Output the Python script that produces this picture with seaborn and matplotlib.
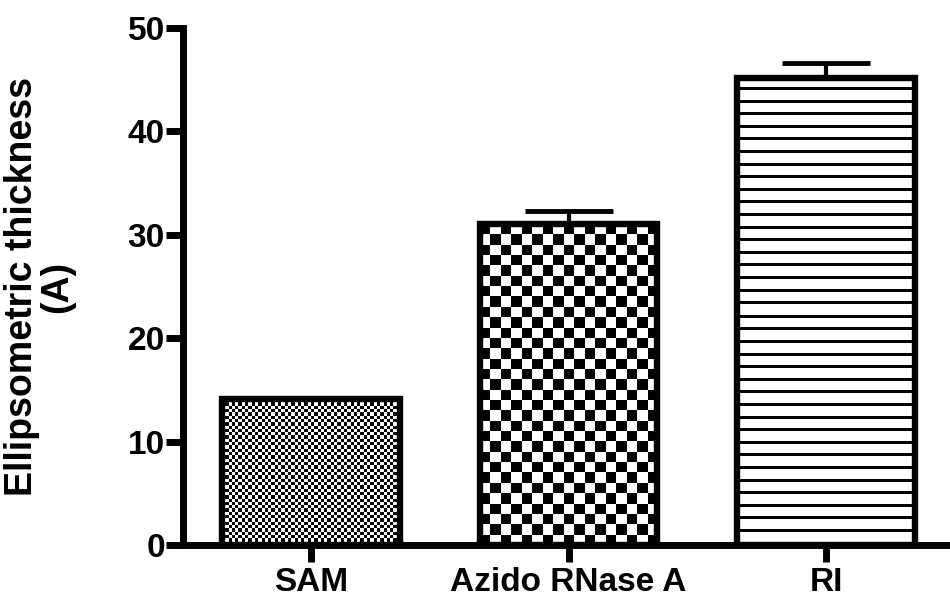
import numpy as np
import matplotlib
matplotlib.use("Agg")
import matplotlib.pyplot as plt
import seaborn as sns

# data
categories = ["SAM", "Azido RNase A", "RI"]
thickness = [14.1, 31.0, 45.2]
sem_upper = [0.0, 1.3, 1.4]
y_ticks = [0, 10, 20, 30, 40, 50]
y_label = "Ellipsometric thickness\n(A)"

# fill textures per bar: (kind, cell size in px)
textures = [("checker", 3.3), ("checker", 10.3), ("stripes", 12.6)]

sns.set_style("ticks")
plt.rcParams["font.family"] = ["Liberation Sans", "DejaVu Sans"]
plt.rcParams["font.weight"] = "bold"
plt.rcParams["axes.labelcolor"] = "black"

fig = plt.figure(figsize=(9.5, 6), dpi=100)
ax = fig.add_axes([183 / 950, 55 / 600, 767 / 950, 517 / 600])

sns.barplot(x=categories, y=thickness, color="white", edgecolor="black",
            linewidth=4.6, width=0.69, errorbar=None, ax=ax)

ax.set_xlim(-0.496, 2.48)
ax.set_ylim(0, 50)
ax.set_yticks(y_ticks)

# patterned fills, clipped to each bar
for patch, (kind, cell) in zip(ax.patches, textures):
    x0, y0 = patch.get_x(), patch.get_y()
    w, h = patch.get_width(), patch.get_height()
    (px0, py0), (px1, py1) = ax.transData.transform([(x0, y0), (x0 + w, y0 + h)])
    wpx, hpx = abs(px1 - px0), abs(py1 - py0)
    if kind == "checker":
        nc = max(1, int(round(wpx / cell)))
        nr = max(1, int(round(hpx / cell)))
        ii, jj = np.indices((nr, nc))
        img = ((ii + jj) % 2).astype(float)
    else:
        nr = int(round(hpx))
        rows = np.arange(nr)[::-1]
        img = ((rows % cell) >= 3).astype(float).reshape(-1, 1)
    im = ax.imshow(img, cmap="gray", vmin=0, vmax=1, interpolation="nearest",
                   extent=[x0, x0 + w, y0, y0 + h], origin="upper",
                   aspect="auto", zorder=2)
    im.set_clip_path(patch)
    patch.set_facecolor("none")
    patch.set_zorder(3)

ax.set_aspect("auto")
ax.set_xlim(-0.496, 2.48)
ax.set_ylim(0, 50)

pos = np.arange(len(categories))
ax.errorbar(pos[1:], thickness[1:], yerr=[np.zeros(len(pos) - 1), sem_upper[1:]],
            fmt="none", ecolor="black", elinewidth=3, capsize=32, capthick=3.5,
            zorder=4)

sns.despine(ax=ax)
for side in ["left", "bottom"]:
    ax.spines[side].set_linewidth(5)
    ax.spines[side].set_color("black")

ax.tick_params(axis="both", width=5, length=12, color="black",
               labelsize=24, labelcolor="black")
ax.tick_params(axis="y", pad=1)
ax.tick_params(axis="x", pad=4)
for lbl in ax.get_xticklabels() + ax.get_yticklabels():
    lbl.set_fontweight("bold")

ax.set_xlabel("")
ax.set_ylabel(y_label, fontsize=27, fontweight="bold", color="black",
              linespacing=1.0)
ax.yaxis.set_label_coords(-0.14, 0.5)

fig.savefig("out.png", dpi=100)
